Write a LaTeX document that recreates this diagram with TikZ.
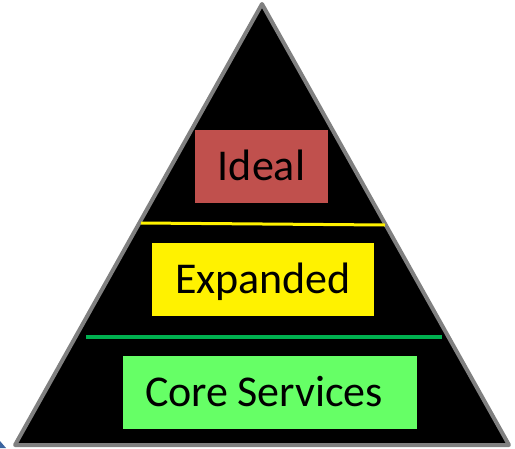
\documentclass[tikz,border=0pt]{standalone}
\usepackage{fontspec}
\setmainfont{Carlito}
\usetikzlibrary{positioning}
\definecolor{idealred}{HTML}{C0504D}
\definecolor{coregreen}{HTML}{66FF66}
\definecolor{linegreen}{HTML}{00B050}
\definecolor{edgegray}{HTML}{808080}
\definecolor{cornerblue}{HTML}{3C64A0}
\tikzstyle{tierbox} = [rectangle, inner sep=0pt, minimum height=73pt, text height=28pt, text depth=0pt, font=\fontsize{44}{52}\selectfont, text=black]
\tikzstyle{tierline} = [line cap=butt]

\begin{document}
\begin{tikzpicture}[x=1pt, y=-1pt]
\useasboundingbox (0,0) rectangle (515,448);
% corner of the next shape
\fill[cornerblue] (0,448) -- (0,441) -- (6,448) -- cycle;
% pyramid
\draw[edgegray, line width=4pt, line join=round, fill=black] (262,4) -- (509,445) -- (15,445) -- cycle;
% tier borders
\coordinate (yl) at (141,223);
\coordinate (yr) at (385,225);
\coordinate (gl) at (86,337);
\coordinate (gr) at (442,337);
\draw[tierline, yellow, line width=3pt] (yl) -- (yr);
\draw[tierline, linegreen, line width=4pt] (gl) -- (gr);
% tiers
\node[tierbox, fill=idealred, minimum width=133pt] (ideal) at (261.5,166) {Ideal};
\node[tierbox, fill=yellow, minimum width=222pt] (expanded) at (263,279.5) {Expanded};
\node[tierbox, fill=coregreen, text width=250pt, inner xsep=22pt, align=left] (core) at (270,392.5) {Core\hspace{9pt}Services};
\end{tikzpicture}
\end{document}
